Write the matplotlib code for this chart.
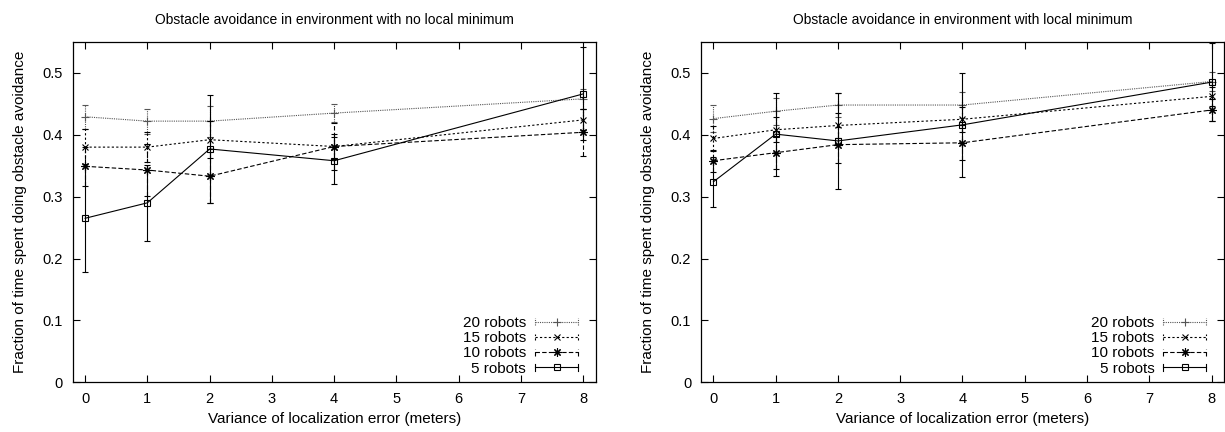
import matplotlib
matplotlib.use("Agg")
import matplotlib.pyplot as plt
from matplotlib.lines import Line2D
from matplotlib.legend_handler import HandlerBase

plt.rcParams['font.family'] = ['Liberation Sans', 'DejaVu Sans']

# datos
variance = [0, 1, 2, 4, 8]
labels = ["20 robots", "15 robots", "10 robots", "5 robots"]

# entorno sin minimo local
nolm_20 = [0.429, 0.422, 0.422, 0.435, 0.458]
nolm_20_err = [0.019, 0.020, 0.025, 0.015, 0.016]
nolm_15 = [0.380, 0.380, 0.392, 0.381, 0.424]
nolm_15_err = [0.030, 0.024, 0.030, 0.020, 0.017]
nolm_10 = [0.349, 0.343, 0.333, 0.381, 0.404]
nolm_10_err = [0.032, 0.042, 0.044, 0.038, 0.038]
nolm_5 = [0.265, 0.290, 0.377, 0.358, 0.466]
nolm_5_err = [0.087, 0.061, 0.088, 0.038, 0.075]

# entorno con minimo local
lm_20 = [0.426, 0.438, 0.448, 0.448, 0.486]
lm_20_err = [0.022, 0.022, 0.019, 0.021, 0.015]
lm_15 = [0.394, 0.408, 0.415, 0.425, 0.462]
lm_15_err = [0.020, 0.020, 0.020, 0.020, 0.015]
lm_10 = [0.358, 0.371, 0.384, 0.387, 0.440]
lm_10_err = [0.018, 0.027, 0.029, 0.028, 0.017]
lm_5 = [0.324, 0.401, 0.390, 0.416, 0.485]
lm_5_err = [0.040, 0.067, 0.078, 0.084, 0.063]

# estilos tipo gnuplot
styles = [
    dict(color="#555555", ls=(0, (1, 1)), marker="+", ms=6, mfc="none"),
    dict(color="black", ls=(0, (2, 2)), marker="x", ms=5, mfc="none"),
    dict(color="black", ls=(0, (4, 2)), marker=(8, 2, 0), ms=6, mfc="none"),
    dict(color="black", ls="-", marker="s", ms=5, mfc="none"),
]


class GnuplotHandler(HandlerBase):
    def __init__(self, st):
        super().__init__()
        self.st = st

    def create_artists(self, legend, orig_handle, xdescent, ydescent,
                       width, height, fontsize, trans):
        st = self.st
        y = height / 2 - ydescent
        x0, x1 = -xdescent, width - xdescent
        arts = [Line2D([x0, x1], [y, y], color=st["color"], linestyle=st["ls"], lw=0.8)]
        for xc in (x0, x1):
            arts.append(Line2D([xc, xc], [y - 2.5, y + 2.5], color=st["color"],
                               linestyle=st["ls"], lw=0.8))
        arts.append(Line2D([(x0 + x1) / 2], [y], marker=st["marker"], ms=st["ms"],
                           mfc="none", mec=st["color"], mew=0.8, linestyle="none"))
        for a in arts:
            a.set_transform(trans)
        return arts


def dibujar(ax, series, errores, titulo):
    handles = []
    for i, (vals, errs) in enumerate(zip(series, errores)):
        st = styles[i]
        cont = ax.errorbar(variance, vals, yerr=errs, color=st["color"], linestyle=st["ls"],
                           lw=0.8, marker=st["marker"], ms=st["ms"], mfc="none",
                           mec=st["color"], mew=0.8, capsize=2.2, capthick=0.8,
                           elinewidth=0.8, zorder=3 + i)
        cont[2][0].set_linestyle(st["ls"])
        handles.append(cont[0])
    ax.set_xlim(-0.2, 8.2)
    ax.set_ylim(0, 0.55)
    ax.set_xticks(range(9))
    ax.set_yticks([0, 0.1, 0.2, 0.3, 0.4, 0.5])
    ax.set_yticklabels(["0", "0.1", "0.2", "0.3", "0.4", "0.5"])
    ax.tick_params(direction="in", length=5, width=0.8, top=True, right=True,
                   labelsize=10.5, pad=7)
    for s in ax.spines.values():
        s.set_linewidth(0.9)
    ax.set_title(titulo, fontsize=10, y=1.064, va="center", pad=0)
    ax.set_xlabel("Variance of localization error (meters)", fontsize=11, va="center")
    ax.xaxis.set_label_coords(0.5, -0.108)
    ax.set_ylabel("Fraction of time spent doing obstacle avoidance", fontsize=11, va="center")
    ax.yaxis.set_label_coords(-0.101, 0.5)
    hmap = {h: GnuplotHandler(styles[i]) for i, h in enumerate(handles)}
    ax.legend(handles, labels, handler_map=hmap, loc="lower right",
              bbox_to_anchor=(0.966, 0.02), frameon=False, markerfirst=False,
              fontsize=11, handlelength=2.8, handletextpad=0.6,
              labelspacing=0.07, borderaxespad=0, borderpad=0)


fig = plt.figure(figsize=(12.25, 4.32), dpi=100)
ax1 = fig.add_axes([0.0593, 0.115, 0.427, 0.788])
ax2 = fig.add_axes([0.5722, 0.115, 0.427, 0.788])

dibujar(ax1, [nolm_20, nolm_15, nolm_10, nolm_5],
        [nolm_20_err, nolm_15_err, nolm_10_err, nolm_5_err],
        "Obstacle avoidance in environment with no local minimum")
dibujar(ax2, [lm_20, lm_15, lm_10, lm_5],
        [lm_20_err, lm_15_err, lm_10_err, lm_5_err],
        "Obstacle avoidance in environment with local minimum")

fig.savefig("out.png", dpi=100)
